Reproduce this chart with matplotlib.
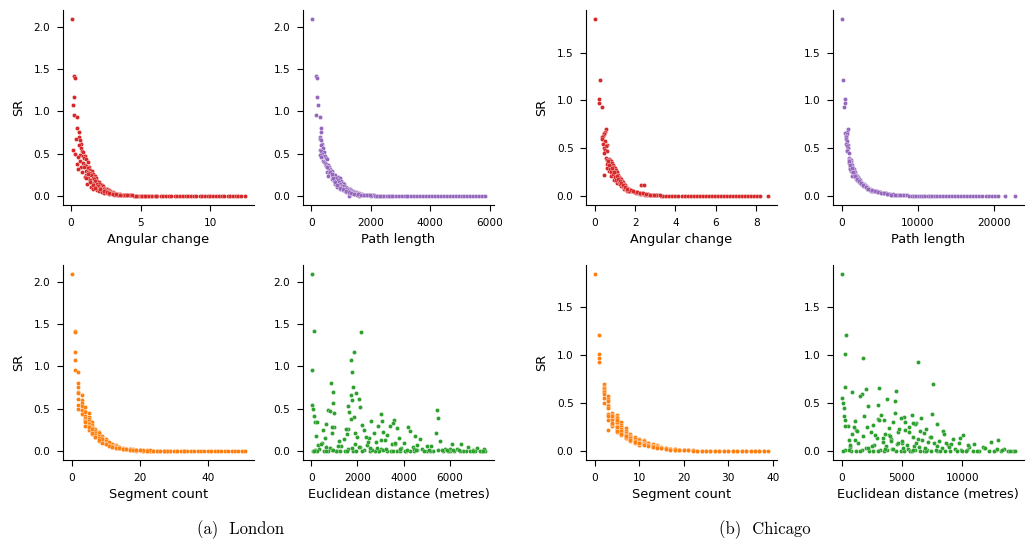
"""
SR against route features for London and Chicago (2x2 scatter per city).

Writes: out.png
"""

import matplotlib.pyplot as plt

# ---- London: one entry per route ----
london_sr = [
    2.09, 1.42, 1.40, 1.17, 1.08, 0.96, 0.93, 0.80, 0.76, 0.70,
    0.68, 0.66, 0.62, 0.60, 0.57, 0.55, 0.53, 0.52, 0.50, 0.49,
    0.48, 0.47, 0.46, 0.45, 0.44, 0.42, 0.40, 0.39, 0.38, 0.37,
    0.36, 0.35, 0.34, 0.33, 0.32, 0.31, 0.30, 0.30, 0.29, 0.28,
    0.27, 0.26, 0.25, 0.25, 0.24, 0.23, 0.22, 0.22, 0.21, 0.20,
    0.19, 0.18, 0.18, 0.17, 0.16, 0.15, 0.15, 0.14, 0.13, 0.12,
    0.12, 0.11, 0.10, 0.10, 0.09, 0.09, 0.08, 0.08, 0.07, 0.07,
    0.06, 0.06, 0.05, 0.05, 0.05, 0.04, 0.04, 0.04, 0.03, 0.03,
    0.03, 0.02, 0.02, 0.02, 0.02, 0.015, 0.015, 0.01, 0.01, 0.01,
    0.008, 0.007, 0.006, 0.006, 0.005, 0.005, 0.004, 0.004, 0.004, 0.003,
    0.003, 0.003, 0.002, 0.002, 0.002, 0.002, 0.001, 0.001, 0.001, 0.001,
    0.001, 0.001, 0.001, 0.0, 0.0, 0.0, 0.0, 0.0, 0.0, 0.0,
    0.0, 0.0, 0.0, 0.0, 0.0, 0.0, 0.0, 0.0, 0.0, 0.0,
    0.14, 0.11, 0.09, 0.07, 0.06, 0.05, 0.04, 0.035, 0.03, 0.025,
    0.02, 0.018, 0.015, 0.012, 0.01, 0.01, 0.008, 0.006, 0.005, 0.004,
    0.34, 0.29, 0.26, 0.21, 0.17, 0.13, 0.10, 0.08, 0.06, 0.045,
    0.035, 0.028, 0.022, 0.018, 0.014, 0.011, 0.009, 0.007, 0.005, 0.003,
]
london_angular = [
    0.05, 0.22, 0.30, 0.20, 0.18, 0.25, 0.45, 0.42, 0.60, 0.55,
    0.35, 0.62, 0.70, 0.58, 0.75, 0.18, 0.80, 0.90, 0.28, 0.66,
    0.85, 1.00, 0.50, 0.95, 1.10, 0.68, 1.20, 0.88, 0.40, 1.00,
    1.10, 1.30, 0.75, 1.25, 0.48, 1.40, 1.05, 1.50, 1.20, 1.35,
    1.30, 1.60, 1.10, 1.45, 1.70, 1.00, 1.55, 1.80, 1.25, 1.65,
    1.40, 1.90, 1.75, 2.00, 1.50, 1.85, 2.10, 1.60, 2.20, 1.95,
    2.30, 1.70, 2.40, 2.05, 2.50, 2.25, 2.60, 2.35, 2.70, 2.45,
    2.80, 2.55, 2.90, 2.65, 3.00, 2.85, 3.10, 2.95, 3.20, 3.35,
    3.50, 3.30, 3.65, 3.80, 3.45, 3.90, 4.10, 4.00, 4.25, 4.40,
    4.60, 4.85, 5.00, 5.25, 5.40, 5.65, 5.80, 6.05, 6.20, 6.45,
    6.60, 6.85, 7.00, 7.20, 7.45, 7.60, 7.85, 8.00, 8.25, 8.40,
    8.60, 8.85, 9.00, 9.25, 9.40, 9.60, 9.85, 10.0, 10.2, 10.4,
    10.6, 10.8, 11.0, 11.25, 11.4, 11.6, 11.85, 12.0, 12.2, 12.5,
    1.15, 1.45, 1.60, 1.85, 2.00, 2.20, 2.40, 2.55, 2.75, 2.95,
    3.10, 3.40, 3.60, 3.75, 3.95, 4.20, 4.50, 4.75, 5.10, 5.50,
    0.95, 0.80, 1.20, 1.05, 1.35, 1.55, 1.75, 2.10, 2.35, 2.60,
    2.75, 3.05, 3.25, 3.55, 3.85, 4.05, 4.35, 4.65, 5.30, 6.10,
]
london_length = [
    10, 170, 180, 190, 220, 150, 290, 340, 330, 300,
    280, 310, 350, 320, 380, 300, 340, 420, 360, 300,
    400, 450, 340, 480, 520, 380, 430, 460, 500, 560,
    480, 520, 600, 550, 620, 580, 650, 700, 520, 600,
    650, 720, 680, 780, 560, 900, 950, 760, 820, 700,
    880, 1000, 760, 920, 1050, 840, 980, 1100, 900, 1020,
    1100, 1150, 1000, 1200, 1080, 1250, 1150, 1300, 1220, 1350,
    1300, 1400, 1380, 1450, 1500, 1420, 1550, 1600, 1500, 1650,
    1700, 1750, 1800, 1650, 1850, 1900, 1950, 2000, 2050, 2100,
    2150, 2250, 2350, 2450, 2550, 2650, 2750, 2850, 2950, 3050,
    3150, 3250, 3350, 3450, 3550, 3650, 3750, 3850, 3950, 4050,
    4150, 4250, 4350, 4450, 4550, 4650, 4750, 4850, 4950, 5050,
    5150, 5250, 5350, 5450, 5550, 5650, 5750, 5850, 1250, 1600,
    780, 850, 950, 1050, 1120, 1180, 1250, 1320, 1400, 1480,
    1550, 1620, 1700, 1780, 1860, 1940, 2020, 2200, 2400, 2600,
    540, 620, 690, 740, 810, 870, 960, 1060, 1170, 1260,
    1330, 1450, 1560, 1680, 1780, 1880, 1980, 2300, 2700, 3200,
]
london_segments = [
    0, 1, 1, 1, 1, 1, 2, 2, 2, 2,
    2, 3, 2, 3, 3, 2, 3, 4, 2, 3,
    3, 4, 4, 5, 3, 4, 5, 4, 5, 4,
    5, 4, 6, 5, 5, 6, 4, 5, 6, 5,
    6, 7, 5, 6, 7, 8, 6, 7, 8, 6,
    7, 8, 9, 7, 8, 9, 8, 10, 9, 8,
    10, 9, 11, 10, 11, 12, 10, 12, 11, 13,
    12, 13, 14, 12, 13, 15, 14, 13, 15, 16,
    15, 16, 17, 18, 16, 17, 19, 18, 20, 19,
    20, 21, 22, 23, 24, 25, 26, 27, 28, 29,
    30, 31, 32, 33, 34, 35, 36, 37, 38, 39,
    40, 41, 42, 43, 44, 45, 46, 47, 48, 49,
    50, 51, 19, 21, 23, 25, 27, 29, 31, 33,
    9, 11, 10, 11, 12, 14, 13, 14, 16, 17,
    17, 18, 19, 20, 21, 22, 23, 24, 26, 28,
    4, 5, 6, 6, 7, 8, 9, 10, 11, 12,
    14, 15, 16, 17, 18, 19, 20, 22, 24, 27,
]
london_euclid = [
    10, 130, 2150, 1830, 1700, 40, 1750, 850, 1800, 950,
    1950, 1700, 2050, 1750, 930, 30, 1600, 2100, 60, 700,
    5450, 800, 1650, 1000, 3000, 130, 1850, 5500, 1700, 3600,
    2600, 3050, 170, 3550, 650, 2200, 2900, 3400, 1000, 4200,
    3700, 1600, 500, 2300, 4300, 3100, 900, 2700, 5400, 1550,
    3300, 200, 4500, 2000, 3800, 600, 2500, 4700, 3200, 1200,
    5600, 2800, 450, 4000, 6100, 1900, 3500, 6500, 300, 2400,
    5200, 1300, 6800, 4400, 2100, 7200, 800, 3900, 5800, 2600,
    4800, 350, 3000, 6300, 1600, 4600, 7000, 2300, 5500, 900,
    150, 1100, 2900, 4100, 5000, 6000, 3300, 1800, 6700, 700,
    2200, 4900, 7400, 550, 3700, 1450, 5700, 2750, 6200, 4300,
    250, 1950, 3450, 5300, 6900, 1050, 4450, 2550, 6600, 3850,
    7550, 7100, 50, 650, 1250, 2950, 4050, 5150, 6450, 7300,
    1400, 2450, 3650, 4600, 5000, 650, 1750, 2850, 4450, 6000,
    7500, 5650, 3100, 950, 2650, 4150, 6150, 1550, 3550, 5950,
    250, 880, 1500, 1900, 2350, 3000, 3650, 430, 1150, 2050,
    2550, 3250, 3850, 4550, 5100, 5900, 6400, 7000, 7450, 100,
]

# ---- Chicago: one entry per route ----
chicago_sr = [
    1.85, 1.21, 1.01, 0.97, 0.93, 0.70, 0.67, 0.66, 0.65, 0.63,
    0.62, 0.60, 0.58, 0.55, 0.54, 0.52, 0.50, 0.48, 0.47, 0.45,
    0.40, 0.39, 0.38, 0.38, 0.37, 0.36, 0.35, 0.35, 0.34, 0.33,
    0.32, 0.31, 0.30, 0.29, 0.28, 0.27, 0.26, 0.25, 0.24, 0.23,
    0.22, 0.22, 0.21, 0.20, 0.20, 0.19, 0.18, 0.18, 0.17, 0.16,
    0.15, 0.15, 0.14, 0.13, 0.13, 0.12, 0.12, 0.12, 0.11, 0.10,
    0.10, 0.09, 0.09, 0.08, 0.08, 0.07, 0.07, 0.06, 0.06, 0.05,
    0.05, 0.045, 0.04, 0.04, 0.035, 0.03, 0.03, 0.025, 0.02, 0.02,
    0.018, 0.015, 0.013, 0.012, 0.01, 0.01, 0.009, 0.008, 0.007, 0.006,
    0.005, 0.005, 0.004, 0.004, 0.003, 0.003, 0.003, 0.002, 0.002, 0.002,
    0.002, 0.001, 0.001, 0.001, 0.001, 0.001, 0.001, 0.0, 0.0, 0.0,
    0.0, 0.0, 0.0, 0.0, 0.0, 0.0, 0.0, 0.0, 0.0, 0.0,
    0.0, 0.0, 0.0, 0.26, 0.21, 0.17, 0.14, 0.11, 0.08, 0.06,
    0.30, 0.28, 0.25, 0.23, 0.20, 0.17, 0.15, 0.13, 0.11, 0.09,
    0.07, 0.06, 0.05, 0.04, 0.035, 0.03, 0.025, 0.02, 0.015, 0.01,
    0.37, 0.33, 0.29, 0.25, 0.21, 0.18, 0.16, 0.14, 0.12, 0.10,
    0.08, 0.065, 0.055, 0.045, 0.038, 0.03, 0.022, 0.016, 0.012, 0.008,
]
chicago_angular = [
    0.00, 0.28, 0.20, 0.22, 0.35, 0.55, 0.52, 0.48, 0.45, 0.40,
    0.38, 0.35, 0.50, 0.40, 0.60, 0.58, 0.45, 0.50, 0.62, 0.48,
    0.55, 0.70, 0.60, 0.75, 0.80, 0.65, 0.72, 0.85, 0.62, 0.90,
    0.78, 0.95, 0.68, 1.00, 0.85, 1.05, 0.92, 1.10, 0.88, 1.00,
    0.45, 1.15, 0.95, 1.20, 1.05, 1.25, 1.00, 1.30, 1.10, 1.35,
    1.20, 1.40, 1.15, 1.45, 1.30, 2.30, 2.42, 1.50, 1.35, 1.55,
    1.40, 1.60, 1.50, 1.70, 1.55, 1.75, 1.65, 1.85, 1.70, 1.90,
    1.80, 2.00, 1.95, 2.10, 2.05, 2.20, 2.15, 2.30, 2.40, 2.25,
    2.50, 2.60, 2.70, 2.80, 2.90, 3.00, 3.10, 3.20, 3.30, 3.40,
    3.55, 3.70, 3.85, 4.00, 4.15, 4.30, 4.45, 4.60, 4.75, 4.90,
    5.05, 5.20, 5.35, 5.50, 5.65, 5.80, 5.95, 6.10, 6.25, 6.40,
    6.55, 6.70, 6.85, 7.00, 7.15, 7.30, 7.45, 7.60, 7.75, 7.90,
    8.05, 8.20, 8.60, 0.70, 0.82, 0.98, 1.12, 1.28, 1.45, 1.62,
    0.62, 0.75, 0.80, 0.92, 1.02, 1.08, 1.18, 1.25, 1.38, 1.48,
    1.58, 1.72, 1.88, 2.02, 2.18, 2.32, 2.48, 2.65, 2.85, 3.05,
    0.68, 0.72, 0.85, 0.95, 1.10, 1.15, 1.25, 1.32, 1.42, 1.52,
    1.60, 1.78, 1.92, 2.08, 2.22, 2.38, 2.55, 2.75, 2.95, 3.25,
]
chicago_length = [
    0, 150, 480, 420, 380, 800, 650, 500, 700, 560,
    600, 520, 750, 640, 900, 700, 850, 760, 680, 950,
    1000, 1100, 950, 1200, 1050, 1300, 1150, 1000, 1250, 1400,
    1100, 1350, 1500, 1200, 1600, 1450, 1300, 1700, 1550, 1800,
    1650, 1900, 2000, 1750, 2100, 2200, 1950, 2300, 2400, 2150,
    2500, 2300, 2700, 2600, 2900, 3000, 3100, 2800, 3200, 3300,
    3400, 3500, 3300, 3700, 3600, 3900, 3800, 4100, 4000, 4300,
    4500, 4700, 4900, 5100, 5300, 5500, 5700, 5900, 6100, 6300,
    6500, 6800, 7100, 7400, 7700, 8000, 8300, 8600, 8900, 9200,
    9500, 9800, 10100, 10400, 10700, 11000, 11300, 11600, 11900, 12200,
    12500, 12900, 13300, 13700, 14100, 14500, 14900, 15300, 15700, 16100,
    16500, 16900, 17300, 17700, 18100, 18500, 18900, 19300, 19700, 20100,
    20500, 21400, 22800, 1250, 1400, 2000, 2450, 2750, 3350, 3850,
    1050, 1150, 1400, 1600, 1850, 2050, 2400, 2650, 3000, 3300,
    3700, 4200, 4600, 5000, 5400, 5800, 6200, 6700, 7300, 8000,
    1000, 1150, 1350, 1550, 1750, 2000, 2250, 2500, 2850, 3200,
    3500, 3950, 4400, 4800, 5200, 5600, 6000, 6500, 7000, 7700,
]
chicago_segments = [
    0, 1, 1, 1, 1, 2, 2, 2, 2, 2,
    2, 2, 3, 2, 3, 3, 2, 3, 3, 3,
    4, 3, 5, 4, 3, 5, 4, 5, 4, 3,
    4, 5, 6, 5, 4, 6, 5, 6, 7, 5,
    3, 6, 7, 6, 5, 7, 8, 6, 7, 8,
    8, 9, 7, 10, 9, 11, 10, 8, 11, 9,
    10, 11, 12, 10, 12, 11, 13, 12, 14, 13,
    14, 13, 15, 14, 15, 16, 15, 17, 16, 18,
    17, 18, 19, 20, 19, 20, 21, 22, 21, 22,
    23, 24, 23, 24, 25, 26, 25, 26, 27, 28,
    27, 28, 29, 30, 29, 30, 31, 32, 31, 32,
    33, 34, 33, 34, 35, 36, 35, 36, 37, 38,
    37, 38, 39, 4, 5, 6, 7, 8, 9, 10,
    5, 4, 5, 6, 6, 7, 7, 8, 9, 10,
    11, 12, 13, 14, 15, 16, 17, 18, 19, 20,
    4, 5, 4, 5, 6, 6, 7, 8, 8, 9,
    10, 11, 12, 13, 14, 15, 16, 17, 18, 19,
]
chicago_euclid = [
    0, 400, 250, 1750, 6300, 7600, 250, 3100, 2000, 4500,
    900, 1700, 1500, 0, 3800, 4400, 150, 3000, 2200, 200,
    4400, 7500, 5800, 3300, 200, 5200, 6600, 4900, 3000, 300,
    3100, 1100, 4300, 6200, 7900, 2600, 500, 5600, 3900, 7000,
    1200, 5300, 8400, 2400, 4700, 6800, 900, 3600, 10100, 1800,
    5900, 7300, 2900, 4100, 9200, 13000, 6700, 600, 8100, 3400,
    12400, 5000, 7700, 1400, 9700, 4600, 11000, 2700, 8800, 6000,
    3700, 10600, 700, 6400, 8300, 11800, 2000, 5500, 9400, 13500,
    4200, 7100, 300, 9900, 12800, 1700, 6100, 10400, 3200, 14200,
    8600, 2300, 5700, 11400, 800, 13800, 4900, 7400, 10900, 1500,
    6800, 12200, 3500, 9000, 100, 5200, 14000, 2600, 7900, 11200,
    4500, 9600, 13200, 1200, 6500, 10000, 3000, 12600, 8200, 5800,
    14400, 7000, 10300, 300, 1300, 2800, 3400, 4100, 4700, 5400,
    5300, 6100, 1000, 4800, 5600, 3900, 7400, 6300, 5000, 8700,
    9100, 700, 7900, 11700, 2200, 6900, 4300, 12900, 5900, 3800,
    1900, 3500, 5900, 2100, 6500, 8500, 4000, 9800, 1100, 7200,
    6200, 10500, 2500, 8900, 5100, 11900, 3600, 7800, 13300, 600,
]

feature_labels = ["Angular change", "Path length", "Segment count",
                  "Euclidean distance (metres)"]
feature_colors = ["#d62728", "#9467bd", "#ff7f0e", "#2ca02c"]
london_xticks = [[0, 5, 10], [0, 2000, 4000, 6000], [0, 20, 40],
                 [0, 2000, 4000, 6000]]
chicago_xticks = [[0, 2, 4, 6, 8], [0, 10000, 20000], [0, 10, 20, 30, 40],
                  [0, 5000, 10000]]
london_yticks = [0.0, 0.5, 1.0, 1.5, 2.0]
chicago_yticks = [0.0, 0.5, 1.0, 1.5]
captions = ["(a)  London", "(b)  Chicago"]


def draw_city(fig, lefts, sr, features, xticks, yticks):
    bottoms = [0.625, 0.159]
    for i, (xs, label, color, ticks) in enumerate(
            zip(features, feature_labels, feature_colors, xticks)):
        row, col = divmod(i, 2)
        ax = fig.add_axes([lefts[col], bottoms[row], 0.186, 0.3565])
        ax.scatter(xs, sr, s=9, color=color, edgecolors="white",
                   linewidths=0.2, zorder=2)
        ax.set_xticks(ticks)
        ax.set_yticks(yticks)
        ax.set_xlabel(label, fontsize=9.3, labelpad=4)
        if col == 0:
            ax.set_ylabel("SR", fontsize=9.3, labelpad=6)
        ax.tick_params(labelsize=7.6, length=4, width=0.8, pad=5)
        for side in ("top", "right"):
            ax.spines[side].set_visible(False)


fig = plt.figure(figsize=(10.27, 5.47), dpi=100)
draw_city(fig, [0.0613, 0.295], london_sr,
          [london_angular, london_length, london_segments, london_euclid],
          london_xticks, london_yticks)
draw_city(fig, [0.5706, 0.811], chicago_sr,
          [chicago_angular, chicago_length, chicago_segments, chicago_euclid],
          chicago_xticks, chicago_yticks)

fig.text(0.234, 0.031, captions[0], family="cmr10", fontsize=12,
         ha="center", va="center")
fig.text(0.745, 0.031, captions[1], family="cmr10", fontsize=12,
         ha="center", va="center")

fig.savefig("out.png", dpi=100)
